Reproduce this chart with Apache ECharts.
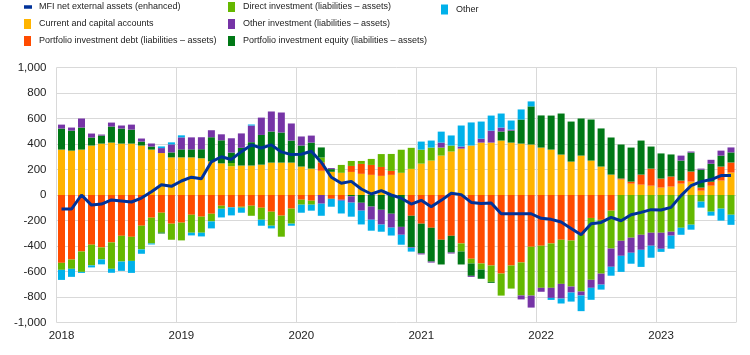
<!DOCTYPE html>
<html>
<head>
<meta charset="utf-8">
<script src="https://cdn.jsdelivr.net/npm/echarts@6/dist/echarts.min.js"></script>
<style>
html,body{margin:0;padding:0;background:#fff;}
#chart{width:750px;height:355px;}
</style>
</head>
<body>
<div id="chart"></div>
<script>
const months = [
'2018-01','2018-02','2018-03','2018-04','2018-05','2018-06','2018-07','2018-08','2018-09','2018-10','2018-11','2018-12',
'2019-01','2019-02','2019-03','2019-04','2019-05','2019-06','2019-07','2019-08','2019-09','2019-10','2019-11','2019-12',
'2020-01','2020-02','2020-03','2020-04','2020-05','2020-06','2020-07','2020-08','2020-09','2020-10','2020-11','2020-12',
'2021-01','2021-02','2021-03','2021-04','2021-05','2021-06','2021-07','2021-08','2021-09','2021-10','2021-11','2021-12',
'2022-01','2022-02','2022-03','2022-04','2022-05','2022-06','2022-07','2022-08','2022-09','2022-10','2022-11','2022-12',
'2023-01','2023-02','2023-03','2023-04','2023-05','2023-06','2023-07','2023-08'];

const currentCapital = [
356,348,356,388,403,411,403,403,388,356,329,295,
295,295,288,264,248,226,231,231,238,254,254,254,
223,207,190,182,174,181,166,158,150,158,174,205,
246,270,309,341,364,388,411,411,427,411,403,396,
372,356,317,262,309,270,223,160,121,89,81,73,
58,66,89,105,34,73,113,176];

const portfolioDebt = [
-532,-506,-443,-390,-411,-372,-320,-328,-241,-178,-139,-225,
-217,-155,-170,-147,-84,-97,-92,-84,-100,-131,-162,-107,
-37,-45,65,-30,-37,47,78,78,70,31,0,-163,
-225,-257,-351,-320,-380,-500,-537,-553,-616,-553,-529,-406,
-398,-380,-351,-357,-313,-180,-195,-123,8,16,79,134,
71,79,24,79,24,31,110,79];

const directInv = [
-55,-73,-160,-162,-94,-207,-202,-189,-186,-202,-155,-126,
-139,-141,-126,-60,-24,25,-8,-79,-94,-110,-165,-118,
-39,-31,39,0,62,39,23,47,101,133,181,165,
110,102,63,47,-63,-37,-47,-128,-173,-181,-259,-383,
-330,-348,-346,-361,-444,-485,-422,-297,-359,-335,-312,-296,
-296,-288,-257,-233,-52,-131,-107,-155];

const portfolioEquity = [
165,157,173,63,63,126,118,110,31,24,-8,39,
63,63,71,189,181,82,139,183,233,244,236,173,
165,204,79,21,0,-10,-61,-91,-116,-147,-250,-246,
-233,-265,-194,-131,-102,-97,-73,-8,71,94,189,299,
252,267,322,314,291,322,299,291,267,267,267,173,
197,173,157,149,141,141,86,79];

const otherInvestment = [
31,24,71,31,8,31,24,39,24,24,39,63,
94,94,94,55,47,112,113,131,136,157,157,134,
71,55,-68,8,-8,-50,-62,-103,-116,-109,-62,-5,
-8,-8,39,-8,16,-8,31,94,31,8,-31,-94,
-31,-79,-115,-47,-31,-63,-86,-143,-118,-118,-118,-102,
-126,-31,39,8,8,31,39,39];

const otherFlows = [
-79,-63,-8,-16,-39,-31,-73,-94,-34,-8,13,16,
16,-21,-29,-55,-68,-63,-39,8,-47,-21,0,-16,
-63,-47,-95,-62,-100,-110,-108,-86,-56,-62,-78,-30,
63,55,86,79,165,181,134,118,110,71,79,39,
0,-16,-39,-71,-123,-94,-39,-70,-126,-86,-134,-94,
-24,-102,-55,-39,-47,-31,-94,-79];

const mfiNet = [
-110,-110,0,-79,-71,-39,-47,-55,-24,25,80,68,
110,140,127,260,300,279,340,393,369,393,338,317,
320,343,257,139,92,107,47,8,34,0,-25,-71,
-42,-92,-42,13,3,-58,-66,-63,-147,-147,-147,-147,
-183,-191,-212,-262,-312,-226,-215,-176,-202,-155,-136,-115,
-118,-97,-5,73,105,121,152,152];

const yTicks = [-1000,-800,-600,-400,-200,0,200,400,600,800,1000];

const NAMES = {
  mfi: 'MFI net external assets (enhanced)',
  cur: 'Current and capital accounts',
  debt: 'Portfolio investment debt (liabilities \u2013 assets)',
  dir: 'Direct investment (liabilities \u2013 assets)',
  oth: 'Other investment (liabilities \u2013 assets)',
  eq: 'Portfolio investment equity (liabilities \u2013 assets)',
  other: 'Other'
};
const COLORS = {
  mfi: '#003299', cur: '#ffb400', debt: '#ff4b00', dir: '#65b800',
  oth: '#7634a6', eq: '#007816', other: '#00b1ea'
};

const chart = echarts.init(document.getElementById('chart'), null, {renderer: 'canvas'});

const legendFont = {
  fontFamily: "'Liberation Sans Narrow','Arial Narrow','Liberation Sans',Arial,sans-serif",
  fontSize: 9, color: '#222', lineHeight: 12
};
function legendBase(extra) {
  return Object.assign({
    orient: 'vertical', padding: 0, itemGap: 5, itemWidth: 7, itemHeight: 10,
    icon: 'rect', selectedMode: false,
    textStyle: Object.assign({padding: [0, 0, 0, 3]}, legendFont)
  }, extra);
}

function barSeries(key, data) {
  return {
    name: NAMES[key], type: 'bar', stack: 'total', data: data,
    barWidth: 7, itemStyle: {color: COLORS[key]}, emphasis: {disabled: true},
    animation: false
  };
}

const option = {
  animation: false,
  legend: [
    legendBase({left: 24, top: 1, itemWidth: 8, itemHeight: 3.5, data: [NAMES.mfi],
      textStyle: Object.assign({padding: [0, 0, 0, 2]}, legendFont)}),
    legendBase({left: 24, top: 18, data: [NAMES.cur, NAMES.debt]}),
    legendBase({left: 228, top: 1, data: [NAMES.dir, NAMES.oth, NAMES.eq]}),
    legendBase({left: 441, top: 3.5, data: [NAMES.other]})
  ],
  grid: {left: 56.5, right: 14, top: 67.5, bottom: 32.5, containLabel: false},
  xAxis: {
    type: 'category', data: months, boundaryGap: true,
    axisLine: {show: false}, axisTick: {show: false},
    axisLabel: {
      interval: 11, margin: 7, color: '#222', fontSize: 11.5,
      fontFamily: "'Liberation Sans',Arial,sans-serif",
      formatter: function (v) { return v.slice(0, 4); }
    },
    splitLine: {show: true, interval: function (i) { return i % 12 === 0; },
      lineStyle: {color: '#d9d9d9', width: 1}}
  },
  yAxis: {
    type: 'value', min: yTicks[0], max: yTicks[yTicks.length - 1], interval: 200,
    axisLine: {show: false}, axisTick: {show: false},
    axisLabel: {margin: 10, color: '#222', fontSize: 11.5,
      fontFamily: "'Liberation Sans',Arial,sans-serif",
      formatter: function (v) { return v.toLocaleString('en-US'); }},
    splitLine: {lineStyle: {color: '#d9d9d9', width: 1}}
  },
  series: [
    barSeries('cur', currentCapital),
    barSeries('debt', portfolioDebt),
    barSeries('dir', directInv),
    barSeries('eq', portfolioEquity),
    barSeries('oth', otherInvestment),
    barSeries('other', otherFlows),
    {
      name: NAMES.mfi, type: 'line', data: mfiNet, z: 10,
      symbol: 'none', smooth: false,
      lineStyle: {color: COLORS.mfi, width: 3},
      itemStyle: {color: COLORS.mfi},
      emphasis: {disabled: true}, animation: false
    }
  ]
};
chart.setOption(option);
</script>
</body>
</html>
